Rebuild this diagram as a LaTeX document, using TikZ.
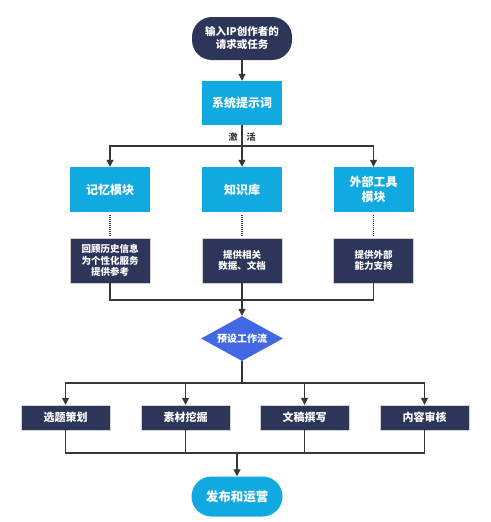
\documentclass[tikz,border=0pt]{standalone}
\usepackage{fontspec}
\setmainfont{Noto Sans CJK SC}
\usetikzlibrary{arrows.meta, positioning, shapes.geometric, calc}
\definecolor{flowcyan}{RGB}{16,170,225}
\definecolor{flownavy}{RGB}{45,53,88}
\definecolor{flowblue}{RGB}{66,104,228}
\definecolor{linegray}{RGB}{55,55,55}
\tikzset{
  pill/.style   = {rounded corners=20pt, fill=flownavy, text=white, align=center,
                   font=\bfseries\fontsize{10.5}{13}\selectfont, inner sep=2pt},
  cbox/.style   = {fill=flowcyan, text=white, align=center, minimum width=80pt,
                   minimum height=45pt, font=\bfseries\fontsize{12}{15}\selectfont},
  dbox/.style   = {draw=gray!35, fill=flownavy, text=white, align=center, minimum width=80pt,
                   minimum height=45pt, font=\bfseries\fontsize{9.5}{11.5}\selectfont},
  tbox/.style   = {draw=gray!35, fill=flownavy, text=white, minimum width=89pt,
                   minimum height=25pt, font=\bfseries\fontsize{11}{13}\selectfont},
  flow/.style   = {diamond, fill=flowblue, text=white, minimum width=82pt, minimum height=45pt,
                   inner sep=0pt, aspect=1.8, font=\bfseries\fontsize{10}{12}\selectfont},
  arrow/.style  = {-{Triangle[length=7pt, width=7pt]}, line width=1.1pt, color=linegray},
  link/.style   = {line width=1.1pt, color=linegray},
  dots/.style   = {line width=1.3pt, color=linegray, dash pattern=on 1pt off 1pt},
}

\begin{document}
\begin{tikzpicture}[x=1pt, y=-1pt]
  \useasboundingbox (0,0) rectangle (490,522);
  \node[pill, minimum width=100pt, minimum height=43pt] (start) at (242,38.5)
    {输入IP创作者的\\请求或任务};
  \node[cbox, minimum height=44pt] (prompt) at (242,103) {系统提示词};

  \node[cbox] (mem)  at (110,189.5)   {记忆模块};
  \node[cbox] (kb)   at (242,189.5)   {知识库};
  \node[cbox] (tool) at (373.5,189.5) {外部工具\\模块};

  \node[dbox] (memd)  at (110,260.5)   {回顾历史信息\\为个性化服务\\提供参考};
  \node[dbox] (kbd)   at (242,260.5)   {提供相关\\数据、文档};
  \node[dbox] (toold) at (373.5,260.5) {提供外部\\能力支持};

  \node[flow] (wf) at (242,338.5) {预设工作流};

  \node[tbox] (topic)  at (65.5,417.5)  {选题策划};
  \node[tbox] (mine)   at (185.5,417.5) {素材挖掘};
  \node[tbox] (draft)  at (304.5,417.5) {文稿撰写};
  \node[tbox] (review) at (424.5,417.5) {内容审核};

  \node[pill, fill=flowcyan, minimum width=91pt, minimum height=40pt,
        font=\bfseries\fontsize{12.5}{15}\selectfont] (publish) at (237,496.5) {发布和运营};

  \node[font=\bfseries\fontsize{9}{11}\selectfont, text=linegray] (act) at (242,137)
    {激\hspace{9pt}活};

  \coordinate (split) at (242,146);
  \coordinate (merge) at (242,300);
  \coordinate (fork)  at (242,383);
  \coordinate (join)  at (237,453);

  \draw[arrow] (start) -- (prompt);
  \draw[arrow] (prompt) -- (kb);
  \draw[arrow] (split) -| (mem);
  \draw[arrow] (split) -| (tool);

  \foreach \a/\b in {mem/memd, kb/kbd, tool/toold}
    \draw[dots] ($(\a.south)+(0,3)$) -- ($(\b.north)+(0,-1)$);

  \draw[link] (memd) |- (merge);
  \draw[link] (toold) |- (merge);
  \draw[arrow] (kbd) -- (wf);

  \draw[arrow] (wf) -- (fork) -| (topic);
  \draw[arrow] (fork) -| (mine);
  \draw[arrow] (fork) -| (draft);
  \draw[arrow] (fork) -| (review);

  \draw[link] (topic) |- (join);
  \draw[link] (mine) |- (join);
  \draw[link] (draft) |- (join);
  \draw[link] (review) |- (join);
  \draw[arrow] (join) -- (publish);
\end{tikzpicture}
\end{document}
